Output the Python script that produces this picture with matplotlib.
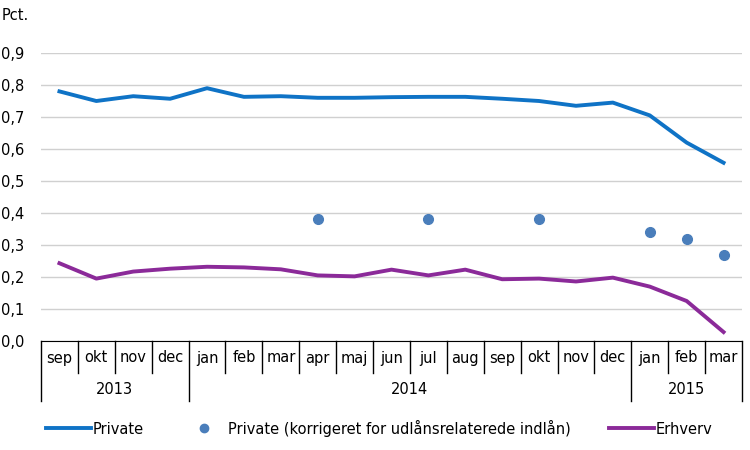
import numpy as np
import matplotlib
matplotlib.use("Agg")
import matplotlib.pyplot as plt
from matplotlib.transforms import blended_transform_factory
from matplotlib.lines import Line2D

months = ["sep", "okt", "nov", "dec", "jan", "feb", "mar", "apr", "maj", "jun",
          "jul", "aug", "sep", "okt", "nov", "dec", "jan", "feb", "mar"]
years = ["2013", "2014", "2015"]
year_spans = [(0, 4), (4, 16), (16, 19)]

private = [0.78, 0.75, 0.765, 0.757, 0.79, 0.763, 0.765, 0.76, 0.76, 0.762,
           0.763, 0.763, 0.757, 0.75, 0.735, 0.745, 0.705, 0.62, 0.557]
private_korr = [None, None, None, None, None, None, None, 0.38, None, None,
                0.38, None, None, 0.38, None, None, 0.34, 0.32, 0.27]
erhverv = [0.243, 0.195, 0.217, 0.226, 0.232, 0.23, 0.224, 0.205, 0.202, 0.223,
           0.205, 0.223, 0.193, 0.195, 0.186, 0.198, 0.17, 0.125, 0.028]

BLUE = "#0f73c6"
DOT = "#4a7ebb"
PURPLE = "#8b2a99"

plt.rcParams["font.family"] = ["DejaVu Sans"]
plt.rcParams["font.size"] = 10

fig = plt.figure(figsize=(7.5, 4.5), dpi=100)
ax = fig.add_axes([41 / 750, 1 - 341 / 450, (742 - 41) / 750, (341 - 53) / 450])

x = np.arange(len(months))
ax.plot(x, private, color=BLUE, lw=2.8, solid_joinstyle="round")
korr = np.array([np.nan if v is None else v for v in private_korr])
ax.plot(x, korr, "o", color=DOT, ms=7, ls="none")
ax.plot(x, erhverv, color=PURPLE, lw=2.8, solid_joinstyle="round")

ax.set_xlim(-0.5, len(months) - 0.5)
ax.set_ylim(0, 0.9)
ax.set_yticks(np.arange(0, 0.91, 0.1))
ax.set_yticklabels([f"{v:.1f}".replace(".", ",") for v in np.arange(0, 0.91, 0.1)])
ax.yaxis.grid(True, color="#d0d0d0", lw=1)
ax.set_axisbelow(True)
ax.tick_params(axis="y", length=0, pad=12, labelsize=10.5)
ax.set_xticks([])
for s in ["top", "right", "left"]:
    ax.spines[s].set_visible(False)
ax.spines["bottom"].set_color("black")

# kategoriakse med måneder og år
tr = blended_transform_factory(ax.transData, ax.transAxes)
h = 288.0
m_depth = -32 / h
y_depth = -60 / h
for i in range(len(months) + 1):
    xpos = i - 0.5
    is_year = i in (0, 4, 16, 19)
    ax.plot([xpos, xpos], [0, y_depth if is_year else m_depth], color="black",
            lw=1, transform=tr, clip_on=False)
for i, m in enumerate(months):
    ax.text(i, -17 / h, m, transform=tr, ha="center", va="center", fontsize=10.5)
for yname, (a, b) in zip(years, year_spans):
    ax.text((a + b - 1) / 2, -48 / h, yname, transform=tr, ha="center",
            va="center", fontsize=10.5)

fig.text(2 / 750, 1 - 15 / 450, "Pct.", ha="left", va="center", fontsize=10.5)

handles = [Line2D([], [], color=BLUE, lw=2.8),
           Line2D([], [], color=DOT, marker="o", ms=6, ls="none"),
           Line2D([], [], color=PURPLE, lw=2.8)]
labels = ["Private", "Private (korrigeret for udlånsrelaterede indlån)", "Erhverv"]
fig.legend(handles, labels, loc="center", bbox_to_anchor=(0.505, 1 - 428 / 450),
           ncol=3, frameon=False, fontsize=10.5, handlelength=3.1,
           handletextpad=0.1, columnspacing=2.6)

fig.savefig("out.png", dpi=100)
